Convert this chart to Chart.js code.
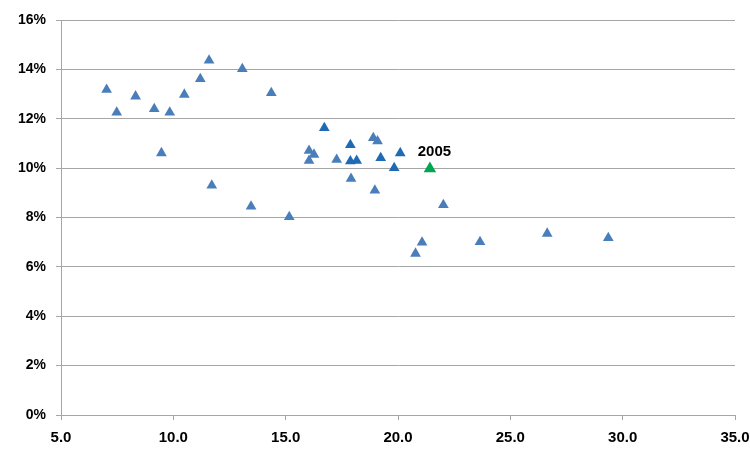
<!DOCTYPE html>
<html>
<head>
<meta charset="utf-8">
<script src="https://cdn.jsdelivr.net/npm/chart.js@4/dist/chart.umd.min.js"></script>
<style>
  html, body { margin: 0; padding: 0; background: #ffffff; }
  #wrap { width: 750px; height: 462px; position: relative; }
</style>
</head>
<body>
<div id="wrap"><canvas id="c"></canvas></div>
<script>
// Light blue series
const lightX = [7.03, 7.48, 8.32, 9.15, 9.84, 9.47, 10.49, 11.20, 11.59, 13.07, 14.36, 11.71, 13.46, 15.16,
                16.04, 16.26, 16.04, 17.27, 17.91, 18.90, 19.09, 18.97, 22.02, 21.07, 20.78, 23.65, 26.64, 29.36];
const lightY = [13.18, 12.26, 12.91, 12.40, 12.26, 10.61, 12.98, 13.61, 14.36, 14.02, 13.05, 9.30, 8.45, 8.02,
                10.71, 10.55, 10.30, 10.34, 9.57, 11.22, 11.09, 9.10, 8.51, 6.99, 6.54, 7.01, 7.35, 7.17];
// Dark blue series
const darkX = [16.72, 17.88, 17.88, 18.16, 19.23, 19.83, 20.10];
const darkY = [11.63, 10.94, 10.28, 10.30, 10.41, 10.01, 10.61];
// Highlighted point
const hiX = [21.42];
const hiY = [9.98];
const hiLabel = ['2005'];

const xTicks = [5, 10, 15, 20, 25, 30, 35];
const yTicks = [0, 2, 4, 6, 8, 10, 12, 14, 16];

const toPts = (xs, ys) => xs.map((x, i) => ({ x: x, y: ys[i] }));

const labelPlugin = {
  id: 'hiLabel',
  afterDatasetsDraw(chart) {
    const meta = chart.getDatasetMeta(2);
    const ctx = chart.ctx;
    ctx.save();
    ctx.font = 'bold 15px "Liberation Sans", Arial, sans-serif';
    ctx.fillStyle = '#000000';
    ctx.textAlign = 'center';
    ctx.textBaseline = 'alphabetic';
    meta.data.forEach((el, i) => {
      ctx.fillText(hiLabel[i], el.x + 4.5, el.y - 12.5);
    });
    ctx.restore();
  }
};

new Chart(document.getElementById('c'), {
  type: 'scatter',
  data: {
    datasets: [
      { data: toPts(lightX, lightY), pointStyle: 'triangle', pointRadius: 6.2,
        backgroundColor: '#4a7ebb', borderColor: '#4a7ebb', borderWidth: 0 },
      { data: toPts(darkX, darkY), pointStyle: 'triangle', pointRadius: 6.2,
        backgroundColor: '#1f6ab5', borderColor: '#1f6ab5', borderWidth: 0 },
      { data: toPts(hiX, hiY), pointStyle: 'triangle', pointRadius: 7.2,
        backgroundColor: '#00a650', borderColor: '#00a650', borderWidth: 0 }
    ]
  },
  options: {
    responsive: true,
    maintainAspectRatio: false,
    animation: false,
    layout: { padding: { left: 0, right: 15, top: 20, bottom: 0 } },
    plugins: { legend: { display: false }, tooltip: { enabled: false } },
    scales: {
      x: {
        type: 'linear', min: 5, max: 35,
        afterBuildTicks(scale) { scale.ticks = xTicks.map(v => ({ value: v })); },
        afterFit(scale) { scale.height = 47; scale.paddingLeft = 0; scale.paddingRight = 0; },
        grid: { drawOnChartArea: false, drawTicks: true, tickLength: 5, color: '#a6a6a6' },
        border: { color: '#a6a6a6' },
        ticks: { color: '#000000', padding: 9,
          font: { family: '"Liberation Sans", Arial, sans-serif', size: 15, weight: 'bold' },
          callback: v => Number(v).toFixed(1) }
      },
      y: {
        type: 'linear', min: 0, max: 16,
        afterBuildTicks(scale) { scale.ticks = yTicks.map(v => ({ value: v })); },
        afterFit(scale) { scale.width = 61; scale.paddingTop = 0; scale.paddingBottom = 0; },
        grid: { drawOnChartArea: true, drawTicks: true, tickLength: 5, color: '#a6a6a6' },
        border: { color: '#a6a6a6' },
        ticks: { color: '#000000', padding: 10,
          font: { family: '"Liberation Sans", Arial, sans-serif', size: 14, weight: 'bold' },
          callback: v => v + '%' }
      }
    }
  },
  plugins: [labelPlugin]
});
</script>
</body>
</html>
